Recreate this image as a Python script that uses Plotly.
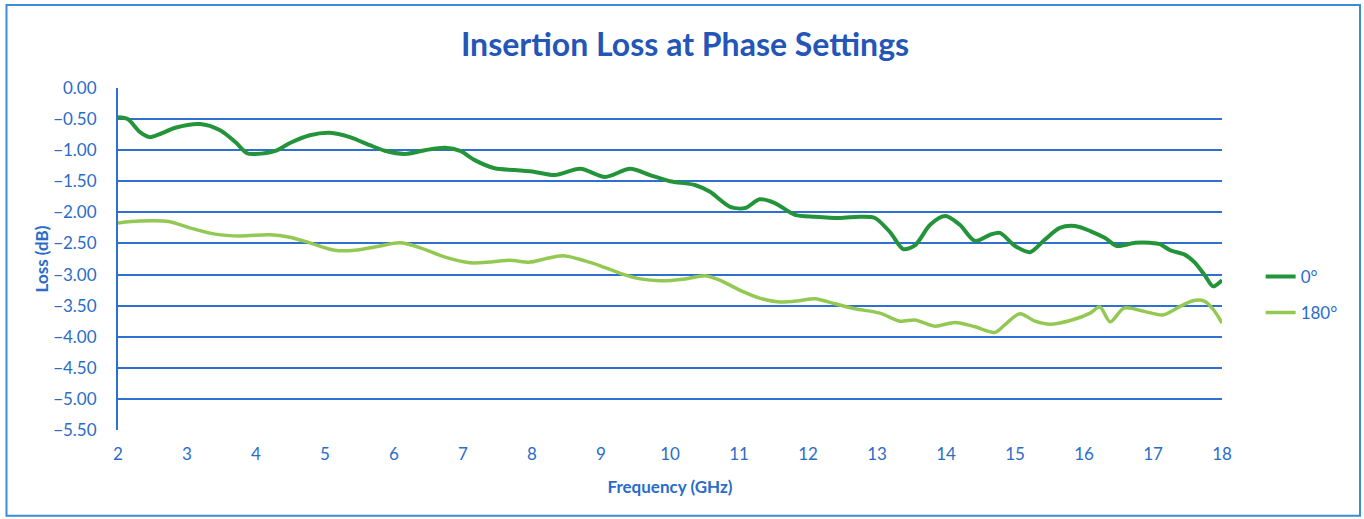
import plotly.graph_objects as go

# 0 degree phase setting
freq_0 = [2.0, 2.14, 2.32, 2.46, 2.61, 2.83, 3.19, 3.48, 3.7, 3.87, 3.99, 4.28, 4.5, 4.78,
          5.07, 5.36, 5.65, 5.87, 6.16, 6.45, 6.74, 6.96, 7.17, 7.46, 7.75, 8.04, 8.33,
          8.7, 9.06, 9.42, 9.71, 10.0, 10.36, 10.58, 10.87, 11.09, 11.3, 11.52, 11.81,
          12.1, 12.46, 12.75, 12.97, 13.19, 13.38, 13.55, 13.77, 13.99, 14.2, 14.42,
          14.64, 14.78, 15.0, 15.22, 15.43, 15.65, 15.87, 16.09, 16.3, 16.48, 16.74,
          16.96, 17.1, 17.25, 17.46, 17.6, 17.75, 17.87, 18.0]
loss_0 = [-0.47, -0.50, -0.71, -0.79, -0.74, -0.64, -0.58, -0.68, -0.87, -1.05, -1.06,
          -1.01, -0.88, -0.76, -0.72, -0.79, -0.92, -1.01, -1.06, -1.00, -0.96, -1.01,
          -1.16, -1.29, -1.32, -1.35, -1.40, -1.30, -1.43, -1.30, -1.40, -1.50, -1.56,
          -1.67, -1.91, -1.93, -1.79, -1.85, -2.04, -2.07, -2.09, -2.07, -2.09, -2.32,
          -2.59, -2.53, -2.20, -2.06, -2.20, -2.46, -2.36, -2.33, -2.54, -2.64, -2.44,
          -2.25, -2.22, -2.30, -2.41, -2.54, -2.49, -2.49, -2.51, -2.61, -2.68, -2.80,
          -3.01, -3.19, -3.09]

# 180 degree phase setting
freq_180 = [2.0, 2.32, 2.75, 3.04, 3.41, 3.77, 4.2, 4.49, 4.78, 5.14, 5.43, 5.8, 6.09,
            6.38, 6.74, 7.1, 7.39, 7.68, 7.97, 8.26, 8.48, 8.77, 8.99, 9.28, 9.57, 9.86,
            10.22, 10.51, 10.72, 11.01, 11.3, 11.59, 11.88, 12.1, 12.39, 12.68, 13.04,
            13.33, 13.55, 13.84, 14.13, 14.42, 14.71, 14.86, 15.07, 15.29, 15.51, 15.8,
            16.09, 16.23, 16.38, 16.58, 16.9, 17.14, 17.38, 17.58, 17.75, 17.88, 18.0]
loss_180 = [-2.17, -2.14, -2.15, -2.25, -2.35, -2.38, -2.36, -2.40, -2.49, -2.61, -2.61,
            -2.54, -2.49, -2.57, -2.72, -2.81, -2.80, -2.77, -2.80, -2.73, -2.70, -2.78,
            -2.86, -2.98, -3.07, -3.10, -3.07, -3.02, -3.09, -3.25, -3.38, -3.44, -3.42,
            -3.39, -3.47, -3.55, -3.62, -3.75, -3.73, -3.83, -3.77, -3.84, -3.93, -3.80,
            -3.63, -3.75, -3.80, -3.74, -3.62, -3.52, -3.76, -3.54, -3.60, -3.65, -3.52,
            -3.42, -3.43, -3.57, -3.78]

BLUE = "#2a6cc9"
FONT = "Lato"

fig = go.Figure()
fig.add_trace(go.Scatter(x=freq_0, y=loss_0, name="0°", mode="lines", legendgroup="a",
                         line=dict(color="#23943a", width=4, shape="spline", smoothing=0.8)))
fig.add_trace(go.Scatter(x=freq_180, y=loss_180, name="180°", mode="lines", legendgroup="b",
                         line=dict(color="#93c953", width=3.5, shape="spline", smoothing=0.8)))

fig.update_layout(
    width=1364, height=519,
    margin=dict(l=118, r=142, t=88, b=89),
    paper_bgcolor="white", plot_bgcolor="white",
    font=dict(family=FONT, color=BLUE, size=17),
    title=dict(text="<b>Insertion Loss at Phase Settings</b>", x=0.5136, xref="paper",
               y=0.913, yanchor="middle", font=dict(size=32, color="#2456b8", family=FONT)),
    legend=dict(x=1.035, y=0.395, xanchor="left", yanchor="middle",
                font=dict(size=17, color=BLUE), tracegroupgap=11),
    showlegend=True,
)

fig.update_xaxes(range=[2, 18], dtick=1, tick0=2, showgrid=False, zeroline=False,
                 showline=False, ticks="", ticklabelstandoff=12,
                 tickfont=dict(size=17, color=BLUE),
                 title=dict(text="<b>Frequency (GHz)</b>", font=dict(size=17, color=BLUE),
                            standoff=18))
fig.update_yaxes(range=[-5.5, 0], dtick=0.5, tickformat=".2f", showgrid=True,
                 gridcolor="#2f6fd0", gridwidth=2, zeroline=False,
                 showline=True, linecolor="#2f6fd0", linewidth=2, ticks="",
                 ticklabelstandoff=16, tickfont=dict(size=17, color=BLUE),
                 title=dict(text="<b>Loss (dB)</b>", font=dict(size=17, color=BLUE),
                            standoff=0))

# outer chart frame
fig.add_shape(type="rect", xref="paper", yref="paper",
              x0=-0.101, x1=1.125, y0=-0.251, y1=1.243,
              line=dict(color="#3b8bd8", width=2), layer="below")

# drop the default page margin so the figure sits at the window origin
fig.write_html("out.html", config={"displayModeBar": False},
               post_script="document.body.style.margin='0';")
